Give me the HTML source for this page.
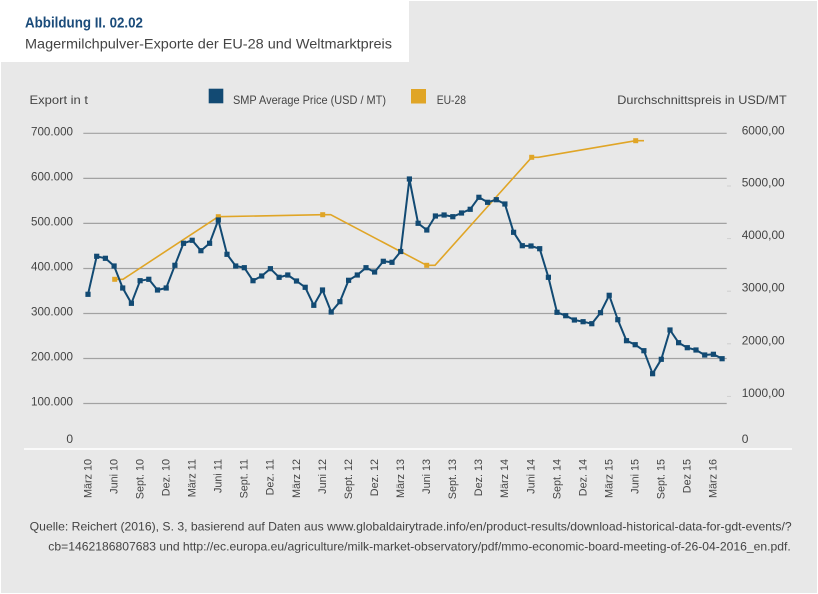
<!DOCTYPE html>
<html><head><meta charset="utf-8"><style>
html,body{margin:0;padding:0;background:#fff;}
svg{display:block;}
text{font-family:"Liberation Sans",sans-serif;}
</style></head><body>
<svg width="818" height="594" viewBox="0 0 818 594" xmlns="http://www.w3.org/2000/svg">
<defs>
<marker id="mb" markerUnits="userSpaceOnUse" markerWidth="6" markerHeight="6" refX="3" refY="3" viewBox="0 0 6 6"><rect x="0.4" y="0.4" width="5.2" height="5.2" fill="#124a73"/></marker>
</defs>
<rect x="0" y="0" width="818" height="594" fill="#fff"/>
<rect x="1" y="1" width="816" height="592" fill="#e8e8e8"/>
<rect x="0" y="0" width="409" height="62" fill="#fff"/>
<text x="25" y="27.5" font-size="15" font-weight="bold" fill="#1a4b7a" textLength="118" lengthAdjust="spacingAndGlyphs">Abbildung II. 02.02</text>
<text x="25" y="48.5" font-size="14" fill="#444" textLength="367" lengthAdjust="spacingAndGlyphs">Magermilchpulver-Exporte der EU-28 und Weltmarktpreis</text>

<!-- header labels -->
<g font-size="12" fill="#444">
<text x="29.5" y="104" textLength="58.5" lengthAdjust="spacingAndGlyphs">Export in t</text>
<rect x="208.7" y="88.7" width="14.6" height="14.6" fill="#124a73"/>
<text x="233" y="104" textLength="153" lengthAdjust="spacingAndGlyphs">SMP Average Price (USD / MT)</text>
<rect x="411" y="89" width="15" height="14.5" fill="#e0a526"/>
<text x="436.7" y="104" textLength="29.3" lengthAdjust="spacingAndGlyphs">EU-28</text>
<text x="617.3" y="104" textLength="169.4" lengthAdjust="spacingAndGlyphs">Durchschnittspreis in USD/MT</text>
</g>

<!-- gridlines -->
<g stroke="#a2a2a2" stroke-width="1.2">
<line x1="83.3" y1="133.3" x2="726.7" y2="133.3"/>
<line x1="83.3" y1="178.4" x2="726.7" y2="178.4"/>
<line x1="83.3" y1="223.4" x2="726.7" y2="223.4"/>
<line x1="83.3" y1="268.5" x2="726.7" y2="268.5"/>
<line x1="83.3" y1="313.5" x2="726.7" y2="313.5"/>
<line x1="83.3" y1="358.5" x2="726.7" y2="358.5"/>
<line x1="83.3" y1="403.5" x2="726.7" y2="403.5"/>
</g>
<g stroke="#cfcfcf" stroke-width="1">
<line x1="727" y1="186" x2="731" y2="186"/>
<line x1="727" y1="238.6" x2="731" y2="238.6"/>
<line x1="727" y1="291.2" x2="731" y2="291.2"/>
<line x1="727" y1="343.8" x2="731" y2="343.8"/>
<line x1="727" y1="396.4" x2="731" y2="396.4"/>
</g>
<line x1="24" y1="449" x2="792" y2="449" stroke="#fff" stroke-width="1.6"/>

<!-- left axis labels -->
<g font-size="12" fill="#444" text-anchor="end">
<text x="73" y="135.7" textLength="42" lengthAdjust="spacingAndGlyphs">700.000</text>
<text x="73" y="180.3" textLength="42" lengthAdjust="spacingAndGlyphs">600.000</text>
<text x="73" y="225.3" textLength="42" lengthAdjust="spacingAndGlyphs">500.000</text>
<text x="73" y="270.5" textLength="42" lengthAdjust="spacingAndGlyphs">400.000</text>
<text x="73" y="315.3" textLength="42" lengthAdjust="spacingAndGlyphs">300.000</text>
<text x="73" y="360.3" textLength="42" lengthAdjust="spacingAndGlyphs">200.000</text>
<text x="73" y="405.3" textLength="42" lengthAdjust="spacingAndGlyphs">100.000</text>
<text x="73" y="443">0</text>
</g>
<!-- right axis labels -->
<g font-size="12" fill="#444">
<text x="741.7" y="134.7" textLength="43" lengthAdjust="spacingAndGlyphs">6000,00</text>
<text x="741.7" y="186.5" textLength="43" lengthAdjust="spacingAndGlyphs">5000,00</text>
<text x="741.7" y="239" textLength="43" lengthAdjust="spacingAndGlyphs">4000,00</text>
<text x="741.7" y="291.5" textLength="43" lengthAdjust="spacingAndGlyphs">3000,00</text>
<text x="741.7" y="344.7" textLength="43" lengthAdjust="spacingAndGlyphs">2000,00</text>
<text x="741.7" y="396.8" textLength="43" lengthAdjust="spacingAndGlyphs">1000,00</text>
<text x="741.7" y="443">0</text>
</g>

<!-- x labels -->
<g font-size="10.8" fill="#444" text-anchor="end">
<text transform="translate(91.3,459) rotate(-90)">März 10</text>
<text transform="translate(117.4,459) rotate(-90)">Juni 10</text>
<text transform="translate(143.4,459) rotate(-90)">Sept. 10</text>
<text transform="translate(169.5,459) rotate(-90)">Dez. 10</text>
<text transform="translate(195.5,459) rotate(-90)">März 11</text>
<text transform="translate(221.6,459) rotate(-90)">Juni 11</text>
<text transform="translate(247.7,459) rotate(-90)">Sept. 11</text>
<text transform="translate(273.7,459) rotate(-90)">Dez. 11</text>
<text transform="translate(299.8,459) rotate(-90)">März 12</text>
<text transform="translate(325.8,459) rotate(-90)">Juni 12</text>
<text transform="translate(351.9,459) rotate(-90)">Sept. 12</text>
<text transform="translate(377.9,459) rotate(-90)">Dez. 12</text>
<text transform="translate(404.0,459) rotate(-90)">März 13</text>
<text transform="translate(430.1,459) rotate(-90)">Juni 13</text>
<text transform="translate(456.1,459) rotate(-90)">Sept. 13</text>
<text transform="translate(482.2,459) rotate(-90)">Dez. 13</text>
<text transform="translate(508.2,459) rotate(-90)">März 14</text>
<text transform="translate(534.3,459) rotate(-90)">Juni 14</text>
<text transform="translate(560.3,459) rotate(-90)">Sept. 14</text>
<text transform="translate(586.4,459) rotate(-90)">Dez. 14</text>
<text transform="translate(612.5,459) rotate(-90)">März 15</text>
<text transform="translate(638.5,459) rotate(-90)">Juni 15</text>
<text transform="translate(664.6,459) rotate(-90)">Sept. 15</text>
<text transform="translate(690.6,459) rotate(-90)">Dez 15</text>
<text transform="translate(716.7,459) rotate(-90)">März 16</text>
</g>

<!-- EU-28 series -->
<polyline fill="none" stroke="#e0a526" stroke-width="1.6" points="114.7,279.3 123,279.3 218.3,216.7 322.7,214.7 330.7,214.7 426.7,265.3 435,265.3 531.7,157.3 538.3,157.3 635.7,140.7 644,140.7"/>
<g fill="#e0a526">
<rect x="112.2" y="276.8" width="5" height="5"/>
<rect x="215.8" y="214.2" width="5" height="5"/>
<rect x="320.2" y="212.2" width="5" height="5"/>
<rect x="424.2" y="262.8" width="5" height="5"/>
<rect x="529.2" y="154.8" width="5" height="5"/>
<rect x="633.2" y="138.2" width="5" height="5"/>
</g>

<!-- SMP series -->
<polyline fill="none" stroke="#124a73" stroke-width="2" stroke-linejoin="round" marker-start="url(#mb)" marker-mid="url(#mb)" marker-end="url(#mb)" points="88.0,294.3 96.7,256.3 105.4,258.3 114.1,266 122.7,288 131.4,303.3 140.1,280.7 148.8,279.3 157.5,290 166.2,288 174.9,265.3 183.5,243.3 192.2,240.3 200.9,250.7 209.6,243.3 218.3,220 227.0,254.3 235.7,266 244.3,267.7 253.0,280.7 261.7,276 270.4,268.7 279.1,277.3 287.8,275 296.5,281 305.2,287.3 313.8,305.3 322.5,290 331.2,312 339.9,301.7 348.6,280.3 357.3,275 366.0,267.7 374.6,272 383.3,261.3 392.0,262.3 400.7,251.5 409.4,179 418.1,223.3 426.8,230 435.4,216 444.1,215 452.8,216.7 461.5,213 470.2,209.3 478.9,197.3 487.6,202.3 496.3,199.7 504.9,204 513.6,232.3 522.3,245.7 531.0,246 539.7,248.7 548.4,277.3 557.0,312.3 565.7,315.7 574.4,320 583.1,321.7 591.8,323.7 600.5,312.7 609.2,295.3 617.8,319.7 626.5,340.7 635.2,344.7 643.9,350.7 652.6,373.7 661.3,359.3 670.0,330 678.6,342.7 687.3,347.7 696.0,350 704.7,355 713.4,354.3 722.1,358.7"/>

<!-- footer -->
<g font-size="12" fill="#444">
<text x="29.7" y="530.5" textLength="762" lengthAdjust="spacingAndGlyphs">Quelle: Reichert (2016), S. 3, basierend auf Daten aus www.globaldairytrade.info/en/product-results/download-historical-data-for-gdt-events/?</text>
<text x="48.3" y="550.5" textLength="742.4" lengthAdjust="spacingAndGlyphs">cb=1462186807683 und http://ec.europa.eu/agriculture/milk-market-observatory/pdf/mmo-economic-board-meeting-of-26-04-2016_en.pdf.</text>
</g>
</svg>
</body></html>
